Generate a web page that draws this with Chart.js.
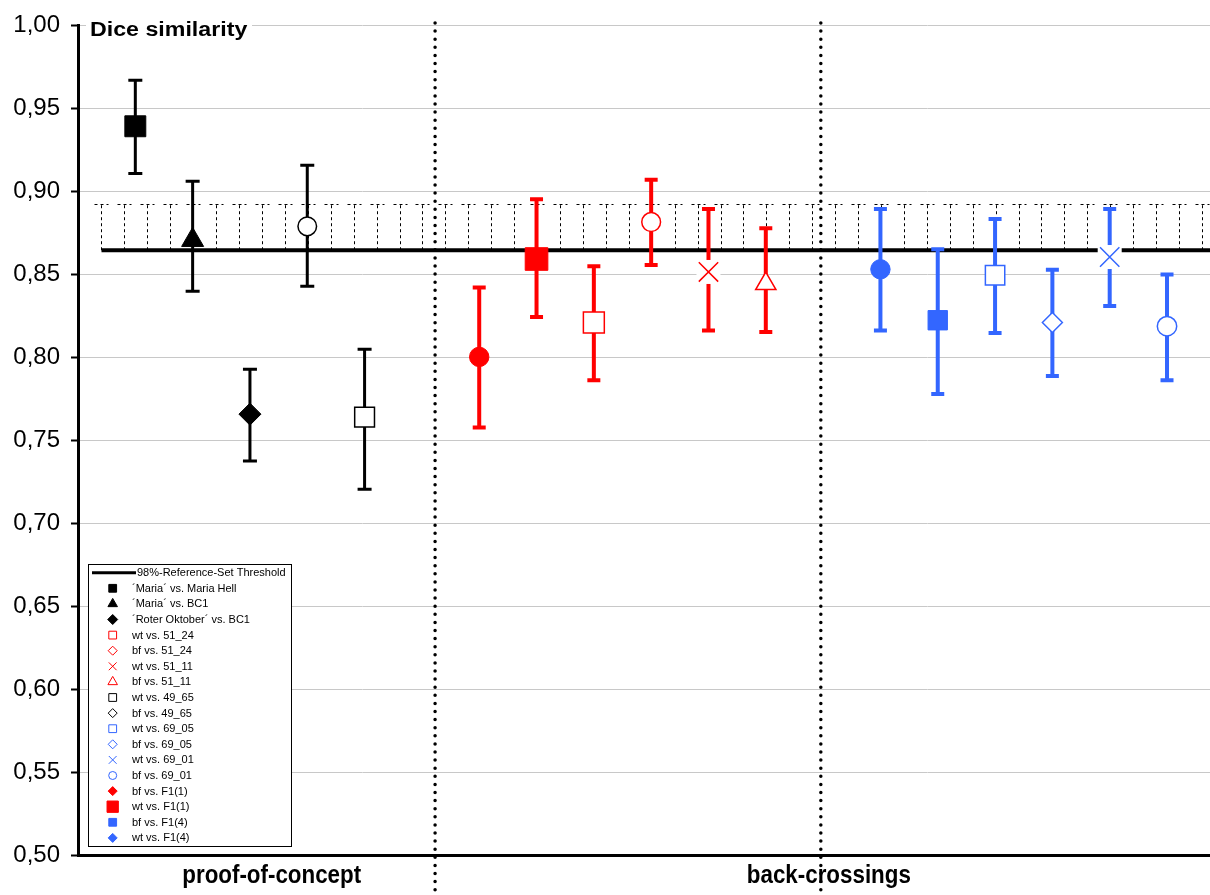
<!DOCTYPE html>
<html>
<head>
<meta charset="utf-8">
<script src="https://cdn.jsdelivr.net/npm/chart.js@4.4.0/dist/chart.umd.min.js"></script>
<style>
    html, body { margin: 0; padding: 0; background: #fff; overflow: hidden; }
    canvas { display: block; }
</style>
</head>
<body>
<canvas id="chartDice" width="1210" height="895"></canvas>
<script>
// comparisons in plotting order, with their slot on the x axis
var comparisons = [
    "´Maria´ vs. Maria Hell", "´Maria´ vs. BC1", "´Roter Oktober´ vs. BC1", "bf vs. 49_65", "wt vs. 49_65",
    "bf vs. F1(1)", "wt vs. F1(1)", "wt vs. 51_24", "bf vs. 51_24", "wt vs. 51_11", "bf vs. 51_11",
    "wt vs. F1(4)", "bf vs. F1(4)", "wt vs. 69_05", "bf vs. 69_05", "wt vs. 69_01", "bf vs. 69_01"
];
var slots = [1, 2, 3, 4, 5, 7, 8, 9, 10, 11, 12, 14, 15, 16, 17, 18, 19];

// mean Dice similarity and the ends of the error bars
var dice     = [0.9392, 0.8706, 0.7657, 0.8789, 0.7639, 0.8002, 0.8592, 0.8209, 0.8815, 0.8514, 0.8443, 0.8530, 0.8223, 0.8494, 0.8209, 0.8604, 0.8187];
var diceLow  = [0.9108, 0.8398, 0.7374, 0.8428, 0.7205, 0.7577, 0.8243, 0.7861, 0.8556, 0.8161, 0.8152, 0.8161, 0.7779, 0.8146, 0.7887, 0.8309, 0.7861];
var diceHigh = [0.9669, 0.9060, 0.7928, 0.9157, 0.8048, 0.8420, 0.8952, 0.8548, 0.9070, 0.8893, 0.8777, 0.8893, 0.8651, 0.8833, 0.8528, 0.8893, 0.8498];

// 98% reference set threshold and the upper edge of its band
var threshold = 0.8645;
var thresholdTop = 0.8922;

var groupNames = ["proof-of-concept", "back-crossings"];
var groupCenters = [3.38, 13.1];
var groupDividers = [6.23, 12.96];

var legendNames = [
    "98%-Reference-Set Threshold", "´Maria´ vs. Maria Hell", "´Maria´ vs. BC1", "´Roter Oktober´ vs. BC1",
    "wt vs. 51_24", "bf vs. 51_24", "wt vs. 51_11", "bf vs. 51_11", "wt vs. 49_65", "bf vs. 49_65",
    "wt vs. 69_05", "bf vs. 69_05", "wt vs. 69_01", "bf vs. 69_01", "bf vs. F1(1)", "wt vs. F1(1)",
    "bf vs. F1(4)", "wt vs. F1(4)"
];

var BLACK = "#000000", RED = "#ff0000", BLUE = "#3366ff";

// marker look per comparison (same order as comparisons)
var markers = [
    {style: "rect", r: 14.8, color: BLACK, fill: true, bar: 3},
    {style: "triangle", r: 12.7, color: BLACK, fill: true, bar: 3},
    {style: "rectRot", r: 11, color: BLACK, fill: true, bar: 3},
    {style: "circle", r: 9.3, color: BLACK, fill: false, bar: 3},
    {style: "rect", r: 14, color: BLACK, fill: false, bar: 3},
    {style: "circle", r: 9.7, color: RED, fill: true, bar: 4},
    {style: "rect", r: 16, color: RED, fill: true, bar: 4},
    {style: "rect", r: 14.8, color: RED, fill: false, bar: 4},
    {style: "circle", r: 9.4, color: RED, fill: false, bar: 4},
    {style: "crossRot", r: 13.7, color: RED, fill: false, bar: 4},
    {style: "triangle", r: 11.7, color: RED, fill: false, bar: 4},
    {style: "circle", r: 9.7, color: BLUE, fill: true, bar: 4},
    {style: "rect", r: 13.7, color: BLUE, fill: true, bar: 4},
    {style: "rect", r: 13.7, color: BLUE, fill: false, bar: 4},
    {style: "rectRot", r: 10, color: BLUE, fill: false, bar: 4},
    {style: "crossRot", r: 13.7, color: BLUE, fill: false, bar: 4},
    {style: "circle", r: 9.7, color: BLUE, fill: false, bar: 4}
];

var legendMarkers = [
    {line: true},
    {style: "rect", r: 5.5, color: BLACK, fill: true},
    {style: "triangle", r: 5.5, color: BLACK, fill: true},
    {style: "rectRot", r: 5, color: BLACK, fill: true},
    {style: "rect", r: 5.5, color: RED, fill: false},
    {style: "rectRot", r: 4.5, color: RED, fill: false},
    {style: "crossRot", r: 5.5, color: RED, fill: false},
    {style: "triangle", r: 5.5, color: RED, fill: false},
    {style: "rect", r: 5.5, color: BLACK, fill: false},
    {style: "rectRot", r: 4.5, color: BLACK, fill: false},
    {style: "rect", r: 5.5, color: BLUE, fill: false},
    {style: "rectRot", r: 4.5, color: BLUE, fill: false},
    {style: "crossRot", r: 5.5, color: BLUE, fill: false},
    {style: "circle", r: 4, color: BLUE, fill: false},
    {style: "rectRot", r: 4.5, color: RED, fill: true},
    {style: "rect", r: 8, color: RED, fill: true},
    {style: "rect", r: 5.5, color: BLUE, fill: true},
    {style: "rectRot", r: 4.5, color: BLUE, fill: true}
];

var FONT = "'Liberation Sans', Arial, sans-serif";
Chart.defaults.font.family = FONT;

function drawMarker(ctx, m, x, y, lw) {
    ctx.fillStyle = m.fill ? m.color : "#ffffff";
    ctx.strokeStyle = m.color;
    ctx.lineWidth = lw;
    Chart.helpers.drawPoint(ctx, {pointStyle: m.style, radius: m.r, rotation: 0, borderWidth: lw}, x, y);
}

// band, threshold, dividers and error bars go under the markers
var backdrop = {
    id: "backdrop",
    beforeDatasetsDraw: function(chart) {
        var ctx = chart.ctx, xs = chart.scales.x, ys = chart.scales.y, area = chart.chartArea;
        var yThr = ys.getPixelForValue(threshold), yTop = Math.round(ys.getPixelForValue(thresholdTop)) + 0.5;
        ctx.save();

        ctx.strokeStyle = "#000";
        ctx.lineWidth = 1;
        ctx.setLineDash([3, 3]);
        for (var k = 0; 0.41 + k * 0.4 <= xs.max; k++) {
            var px = Math.round(xs.getPixelForValue(0.41 + k * 0.4)) + 0.5;
            ctx.beginPath(); ctx.moveTo(px, yThr); ctx.lineTo(px, yTop); ctx.stroke();
            ctx.beginPath(); ctx.moveTo(px - 7, yTop); ctx.lineTo(px + 7, yTop); ctx.stroke();
        }

        ctx.setLineDash([]);
        ctx.lineWidth = 4;
        ctx.beginPath();
        ctx.moveTo(xs.getPixelForValue(0.41), yThr);
        ctx.lineTo(area.right, yThr);
        ctx.stroke();

        ctx.lineWidth = 3.5;
        ctx.lineCap = "round";
        ctx.setLineDash([0, 8.1]);
        groupDividers.forEach(function(d) {
            var px = xs.getPixelForValue(d);
            ctx.beginPath(); ctx.moveTo(px, 23); ctx.lineTo(px, chart.height); ctx.stroke();
        });
        ctx.setLineDash([]);
        ctx.lineCap = "butt";

        for (var i = 0; i < dice.length; i++) {
            var m = markers[i];
            var x = xs.getPixelForValue(slots[i]);
            var y1 = ys.getPixelForValue(diceHigh[i]), y2 = ys.getPixelForValue(diceLow[i]);
            var cap = m.color === BLACK ? 7 : 6.5;
            ctx.strokeStyle = m.color;
            ctx.lineWidth = m.bar;
            ctx.beginPath();
            ctx.moveTo(x, y1); ctx.lineTo(x, y2);
            ctx.moveTo(x - cap, y1); ctx.lineTo(x + cap, y1);
            ctx.moveTo(x - cap, y2); ctx.lineTo(x + cap, y2);
            ctx.stroke();
            if (m.style === "crossRot") {
                ctx.fillStyle = "#ffffff";
                ctx.fillRect(x - 12, ys.getPixelForValue(dice[i]) - 12, 24, 24);
            }
        }
        ctx.restore();
    },
    afterDraw: function(chart) {
        var ctx = chart.ctx, xs = chart.scales.x;
        ctx.save();

        // axis title inside the plot
        ctx.fillStyle = "#ffffff";
        ctx.fillRect(86, 14, 166, 24);
        ctx.fillStyle = "#000";
        ctx.font = "bold 20px " + FONT;
        ctx.textBaseline = "alphabetic";
        ctx.save();
        ctx.translate(90, 36);
        ctx.scale(1.16, 1);
        ctx.fillText("Dice similarity", 0, 0);
        ctx.restore();

        // group names under the x axis
        ctx.font = "bold 26px " + FONT;
        ctx.textAlign = "center";
        groupNames.forEach(function(g, i) {
            ctx.save();
            ctx.translate(xs.getPixelForValue(groupCenters[i]), 883);
            ctx.scale(0.86, 1);
            ctx.fillText(g, 0, 0);
            ctx.restore();
        });

        // legend box
        ctx.fillStyle = "#ffffff";
        ctx.fillRect(88.5, 564.5, 203, 282);
        ctx.strokeStyle = "#000";
        ctx.lineWidth = 1;
        ctx.strokeRect(88.5, 564.5, 203, 282);
        ctx.textAlign = "left";
        ctx.textBaseline = "middle";
        legendNames.forEach(function(name, i) {
            var y = 572.7 + i * 15.6;
            var m = legendMarkers[i];
            var tx = 132;
            if (m.line) {
                ctx.strokeStyle = "#000";
                ctx.lineWidth = 3;
                ctx.beginPath(); ctx.moveTo(92, y); ctx.lineTo(136, y); ctx.stroke();
                tx = 137;
            } else {
                drawMarker(ctx, m, 112.7, y, 1);
            }
            ctx.fillStyle = "#000";
            ctx.font = "11px " + FONT;
            ctx.fillText(name, tx, y + 0.5);
        });
        ctx.restore();
    }
};

var datasets = comparisons.map(function(name, i) {
    var m = markers[i];
    return {
        label: name,
        data: [{x: slots[i], y: dice[i]}],
        pointStyle: m.style,
        pointRadius: m.r,
        pointHoverRadius: m.r,
        backgroundColor: m.fill ? m.color : "#ffffff",
        borderColor: m.color,
        borderWidth: m.fill ? 1 : 1.5
    };
});

var chart = new Chart(document.getElementById("chartDice").getContext("2d"), {
    type: "scatter",
    data: { datasets: datasets },
    options: {
        responsive: false,
        animation: false,
        devicePixelRatio: 1,
        layout: { autoPadding: false, padding: { top: 25, left: 0, right: 0, bottom: 0 } },
        plugins: {
            legend: { display: false },
            tooltip: { enabled: false }
        },
        scales: {
            x: {
                type: "linear",
                min: 0,
                max: 19.75,
                ticks: { display: false },
                grid: { display: false, drawTicks: false },
                border: { color: "#000", width: 3 },
                afterFit: function(scale) { scale.height = 40; }
            },
            y: {
                min: 0.5,
                max: 1.0,
                ticks: {
                    stepSize: 0.05,
                    color: "#000",
                    padding: 11,
                    font: { size: 24 },
                    callback: function(v) { return v.toFixed(2).replace(".", ","); }
                },
                grid: { color: "#c8c8c8", lineWidth: 1, tickLength: 7, tickColor: "#000", tickWidth: 2 },
                border: { color: "#000", width: 3 },
                afterFit: function(scale) { scale.width = 78; }
            }
        }
    },
    plugins: [backdrop]
});
</script>
</body>
</html>
